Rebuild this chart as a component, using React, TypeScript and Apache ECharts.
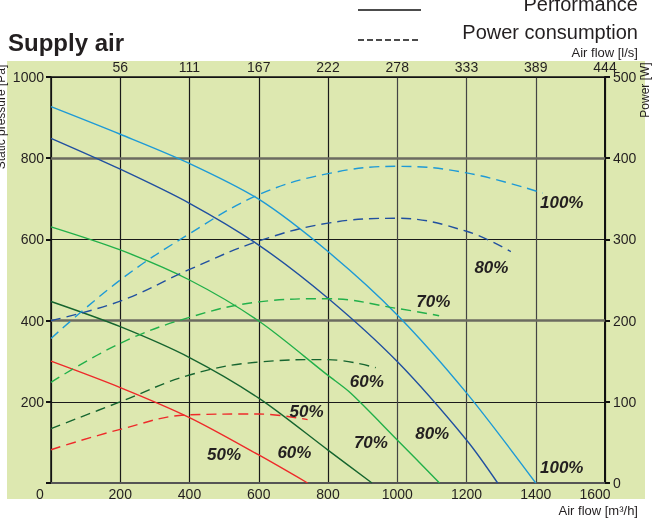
import React, { useEffect, useRef } from "react";
import * as echarts from "echarts";

// ---- data (x: air flow m3/h, y: static pressure Pa / power W) ----
const topAxisLabels = ["", "56", "111", "167", "222", "278", "333", "389", "444"];

const perf100X = [0, 200, 400, 600, 800, 1000, 1200, 1400];
const perf100Y = [927, 859, 787, 699, 570, 414, 222, 0];
const perf80X = [0, 200, 400, 600, 800, 1000, 1200, 1290];
const perf80Y = [849, 773, 689, 586, 455, 299, 106, 0];
const perf70X = [0, 200, 400, 600, 800, 866, 1000, 1122];
const perf70Y = [631, 574, 500, 399, 265, 221, 106, 0];
const perf60X = [0, 200, 400, 600, 800, 927];
const perf60Y = [447, 385, 309, 209, 81, 0];
const perf50X = [0, 200, 400, 600, 741];
const perf50Y = [300, 235, 161, 69, 0];

const pow100X = [0, 200, 400, 600, 800, 1000, 1200, 1420];
const pow100Y = [178, 250, 307, 355, 381, 390, 382, 357];
const pow80X = [0, 200, 400, 600, 800, 1000, 1200, 1328];
const pow80Y = [200, 224, 263, 298, 320, 326, 310, 285];
const pow70X = [0, 200, 400, 600, 800, 1000, 1121];
const pow70Y = [124, 172, 204, 223, 227, 215, 206];
const pow60X = [0, 200, 400, 600, 800, 938];
const pow60Y = [67, 100, 133, 149, 152, 142];
const pow50X = [0, 200, 400, 600, 741];
const pow50Y = [41, 66, 84, 85, 78];

// curve annotations (data coords: m3/h, Pa)
const annText = ["100%", "80%", "70%", "60%", "50%", "50%", "60%", "70%", "80%", "100%"];
const annX = [1475, 1272, 1104, 912, 738, 500, 703, 924, 1101, 1475];
const annY = [690, 532, 446, 251, 177, 69, 76, 99, 123, 39];

const C100 = "#1e9ad6";
const C80 = "#2150a0";
const C70 = "#22b04a";
const C60 = "#16652f";
const C50 = "#ee2a2a";

const FONT = "Liberation Sans, Arial, sans-serif";
const TXT = "#231f20";

const pairs = (xs: number[], ys: number[]) => xs.map((x, i) => [x, ys[i]]);

export default function App() {
  const ref = useRef<HTMLDivElement>(null);
  useEffect(() => {
    if (!ref.current) return;
    const chart = echarts.init(ref.current, null, { renderer: "svg" });

    const solid = (name: string, xs: number[], ys: number[], color: string, extra: any = {}) => ({
      name,
      type: "line",
      xAxisIndex: 0,
      yAxisIndex: 0,
      data: pairs(xs, ys),
      showSymbol: false,
      symbol: "none",
      smooth: 0.3,
      lineStyle: { color, width: 1.4 },
      z: 5,
      ...extra,
    });
    const dashed = (name: string, xs: number[], ys: number[], color: string) => ({
      name,
      type: "line",
      xAxisIndex: 0,
      yAxisIndex: 1,
      data: pairs(xs, ys),
      showSymbol: false,
      symbol: "none",
      smooth: 0.4,
      lineStyle: { color, width: 1.4, type: [10, 6] },
      z: 5,
    });

    const option: any = {
      animation: false,
      textStyle: { fontFamily: FONT },
      grid: { left: 51, right: 47, top: 77, bottom: 37, containLabel: false },
      graphic: [
        { type: "rect", z: -100, shape: { x: 7, y: 61, width: 638, height: 438 }, style: { fill: "#dde8b0" }, silent: true },
        { type: "text", x: 8, y: 42, style: { text: "Supply air", font: `bold 24px ${FONT}`, fill: TXT, textVerticalAlign: "middle" } },
        { type: "line", shape: { x1: 358, y1: 10, x2: 421, y2: 10 }, style: { stroke: "#111", lineWidth: 1.4 } },
        { type: "line", shape: { x1: 358, y1: 40, x2: 421, y2: 40 }, style: { stroke: "#111", lineWidth: 1.4, lineDash: [6, 3] } },
        { type: "text", x: 638, y: 4, style: { text: "Performance", font: `20px ${FONT}`, fill: TXT, textAlign: "right", textVerticalAlign: "middle" } },
        { type: "text", x: 638, y: 32, style: { text: "Power consumption", font: `20px ${FONT}`, fill: TXT, textAlign: "right", textVerticalAlign: "middle" } },
        { type: "text", x: 638, y: 52, style: { text: "Air flow [l/s]", font: `13px ${FONT}`, fill: TXT, textAlign: "right", textVerticalAlign: "middle" } },
        { type: "text", x: 638, y: 510, style: { text: "Air flow [m³/h]", font: `13px ${FONT}`, fill: TXT, textAlign: "right", textVerticalAlign: "middle" } },
        { type: "text", x: 1, y: 117, rotation: Math.PI / 2, style: { text: "Static pressure [Pa]", font: `12px ${FONT}`, fill: TXT, textAlign: "center", textVerticalAlign: "middle" } },
        { type: "text", x: 645, y: 90, rotation: Math.PI / 2, style: { text: "Power [W]", font: `12px ${FONT}`, fill: TXT, textAlign: "center", textVerticalAlign: "middle" } },
      ],
      xAxis: [
        {
          type: "value",
          position: "bottom",
          min: 0,
          max: 1600,
          interval: 200,
          axisLine: { show: true, onZero: false, lineStyle: { color: "#555", width: 2 } },
          axisTick: { show: false },
          axisLabel: {
            fontSize: 14,
            color: TXT,
            margin: 4,
            fontFamily: FONT,
            formatter: (v: number) => (v === 0 ? "{l|0}" : v === 1600 ? "{r|1600}" : String(v)),
            rich: {
              l: { fontSize: 14, color: TXT, fontFamily: FONT, padding: [0, 22, 0, 0] },
              r: { fontSize: 14, color: TXT, fontFamily: FONT, padding: [0, 20, 0, 0] },
            },
          },
          splitLine: { show: true, lineStyle: { color: ["#1a1a1a", "#1a1a1a", "#1a1a1a", "#1a1a1a", "#1a1a1a", "#444", "#444", "#444", "#1a1a1a"], width: 1.2 } },
        },
        {
          type: "value",
          position: "top",
          min: 0,
          max: 1600,
          interval: 200,
          axisLine: { show: true, onZero: false, lineStyle: { color: "#111", width: 1.5 } },
          axisTick: { show: false },
          axisLabel: {
            fontSize: 14,
            color: TXT,
            margin: 3,
            fontFamily: FONT,
            showMinLabel: false,
            formatter: (v: number) => topAxisLabels[Math.round(v / 200)] ?? "",
          },
          splitLine: { show: false },
        },
      ],
      yAxis: [
        {
          type: "value",
          position: "left",
          min: 0,
          max: 1000,
          interval: 200,
          axisLine: { show: true, onZero: false, lineStyle: { color: "#111", width: 1.5 } },
          axisTick: { show: false },
          axisLabel: { fontSize: 14, color: TXT, margin: 7, fontFamily: FONT, showMinLabel: false, formatter: (v: number) => String(v) },
          splitLine: { show: true, lineStyle: { color: "#1a1a1a", width: 1.2 } },
        },
        {
          type: "value",
          position: "right",
          min: 0,
          max: 500,
          interval: 100,
          axisLine: { show: true, onZero: false, lineStyle: { color: "#111", width: 2 } },
          axisTick: { show: true, inside: false, length: 5, lineStyle: { color: "#111", width: 2 } },
          axisLabel: { fontSize: 14, color: TXT, margin: 8, fontFamily: FONT, formatter: (v: number) => String(v) },
          splitLine: { show: false },
        },
        {
          type: "value",
          position: "right",
          min: 0,
          max: 500,
          interval: 100,
          axisLine: { show: false },
          axisTick: { show: true, inside: true, length: 5, lineStyle: { color: "#111", width: 2 } },
          axisLabel: { show: false },
          splitLine: { show: false },
        },
      ],
      series: [
        solid("Performance 100%", perf100X, perf100Y, C100, {
          markLine: {
            silent: true,
            symbol: "none",
            label: { show: false },
            lineStyle: { color: "#6b6b60", width: 2.5, type: "solid" },
            data: [{ yAxis: 400 }, { yAxis: 800 }],
            z: 1,
          },
        }),
        solid("Performance 80%", perf80X, perf80Y, C80),
        solid("Performance 70%", perf70X, perf70Y, C70),
        solid("Performance 60%", perf60X, perf60Y, C60),
        solid("Performance 50%", perf50X, perf50Y, C50),
        dashed("Power 100%", pow100X, pow100Y, C100),
        dashed("Power 80%", pow80X, pow80Y, C80),
        dashed("Power 70%", pow70X, pow70Y, C70),
        dashed("Power 60%", pow60X, pow60Y, C60),
        dashed("Power 50%", pow50X, pow50Y, C50),
        {
          name: "labels",
          type: "scatter",
          xAxisIndex: 0,
          yAxisIndex: 0,
          symbolSize: 1,
          itemStyle: { color: "rgba(0,0,0,0)", opacity: 1 },
          data: annX.map((x, i) => [x, annY[i], annText[i]]),
          label: {
            show: true,
            position: "inside",
            formatter: (p: any) => p.data[2],
            fontSize: 17,
            fontWeight: "bold",
            fontStyle: "italic",
            color: TXT,
            opacity: 1,
            fontFamily: FONT,
          },
          emphasis: { disabled: true },
          z: 10,
        },
      ],
    };
    chart.setOption(option);
    return () => chart.dispose();
  }, []);
  return <div ref={ref} style={{ position: "fixed", left: 0, top: 0, width: 652, height: 520 }} />;
}
